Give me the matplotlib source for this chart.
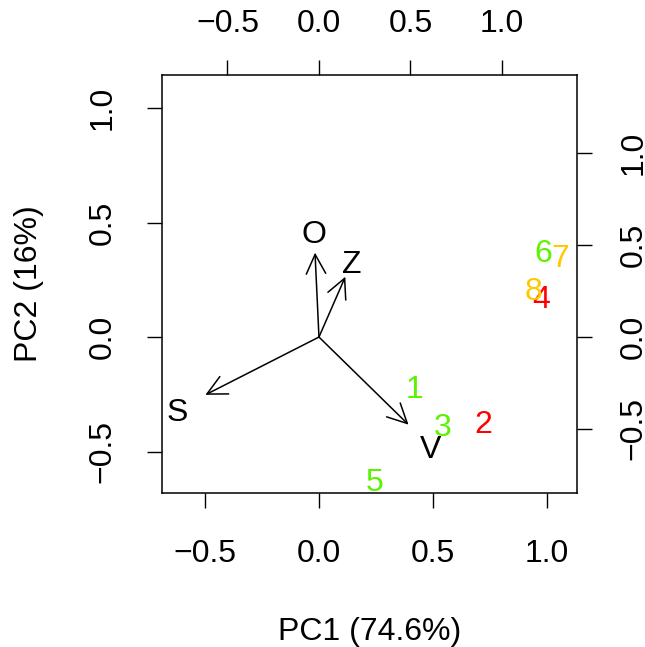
import matplotlib
matplotlib.use("Agg")
import matplotlib.pyplot as plt

plt.rcParams['font.family'] = ['Liberation Sans', 'DejaVu Sans']

# scores (bottom/left axes)
obs_labels = ['1', '2', '3', '4', '5', '6', '7', '8']
pc1 = [0.417, 0.719, 0.544, 0.974, 0.246, 0.982, 1.057, 0.939]
pc2 = [-0.214, -0.367, -0.380, 0.179, -0.620, 0.380, 0.358, 0.210]
obs_colors = ['#5CF200', '#FF0000', '#5CF200', '#FF0000', '#5CF200',
              '#5CF200', '#FFC800', '#FFC800']

# loadings (top/right axes)
var_labels = ['S', 'O', 'Z', 'V']
load1 = [-0.776, -0.027, 0.180, 0.612]
load2 = [-0.393, 0.574, 0.410, -0.596]

ticks = [-0.5, 0.0, 0.5, 1.0]
ticklabels = ['\u22120.5', '0.0', '0.5', '1.0']
ratio = 1.246
fs = 23

fig = plt.figure(figsize=(6.45, 6.47), dpi=100)
ax = fig.add_axes([0.251, 0.238, 0.6436, 0.646])
ax.set_xlim(-0.689, 1.132)
ax.set_ylim(-0.681, 1.144)

for x, y, s, c in zip(pc1, pc2, obs_labels, obs_colors):
    ax.text(x, y, s, color=c, fontsize=fs, ha='center', va='center_baseline')

ax.set_xticks(ticks)
ax.set_xticklabels(ticklabels)
ax.set_yticks(ticks)
ax.set_yticklabels(ticklabels, rotation=90, va='center')
ax.tick_params(axis='x', length=11, width=1, labelsize=fs, pad=22)
ax.tick_params(axis='y', length=11, width=1, labelsize=fs, pad=21)
ax.set_xlabel('PC1 (74.6%)', fontsize=fs, labelpad=35)
ax.set_ylabel('PC2 (16%)', fontsize=fs, labelpad=31)
for sp in ax.spines.values():
    sp.set_linewidth(1.1)

# secondary axes for loadings
ax2 = fig.add_axes(ax.get_position(), frameon=False)
ax2.set_xlim(-0.689 * ratio, 1.132 * ratio)
ax2.set_ylim(-0.681 * ratio, 1.144 * ratio)
ax2.xaxis.tick_top()
ax2.yaxis.tick_right()
ax2.set_xticks(ticks)
ax2.set_xticklabels(ticklabels)
ax2.set_yticks(ticks)
ax2.set_yticklabels(ticklabels, rotation=90, va='center')
ax2.tick_params(axis='x', length=11, width=1, labelsize=fs, pad=15)
ax2.tick_params(axis='y', length=11, width=1, labelsize=fs, pad=19)

for x, y, s in zip(load1, load2, var_labels):
    ax2.annotate('', xy=(0.8 * x, 0.8 * y), xytext=(0, 0),
                 arrowprops=dict(arrowstyle='->,head_length=0.7,head_width=0.35',
                                 lw=1.1, color='black', shrinkA=0, shrinkB=0,
                                 mutation_scale=20))
    ax2.text(x, y, s, fontsize=fs, ha='center', va='center_baseline')

fig.savefig('out.png', dpi=100)
